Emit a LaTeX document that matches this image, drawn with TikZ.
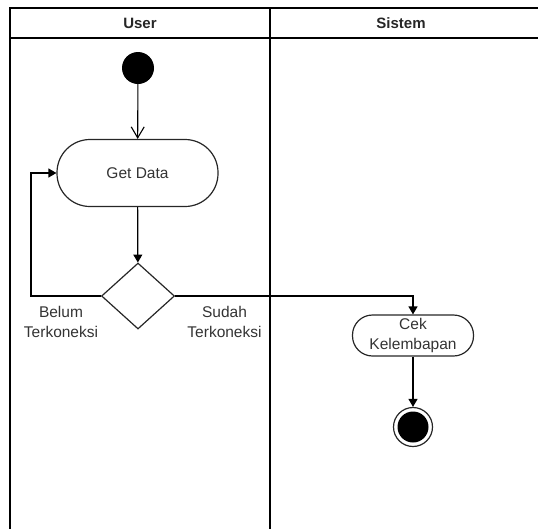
\documentclass[tikz,border=0pt]{standalone}
\usepackage{fontspec}
\setmainfont{Liberation Sans}
\usetikzlibrary{shapes.geometric,arrows.meta}
\definecolor{txt}{HTML}{333333}
\tikzset{
  lane/.style={draw=black,line width=1.3pt},
  act/.style={draw=black!85,line width=1.2pt,rectangle,inner sep=0pt,text=txt,align=center,font=\fontsize{15.5}{20}\selectfont},
  dec/.style={draw=black!85,line width=1.2pt,diamond,inner sep=0pt,minimum width=73pt,minimum height=66pt},
  lbl/.style={text=txt,align=center,font=\fontsize{15.5}{20}\selectfont,inner sep=0pt},
  hdr/.style={font=\bfseries\fontsize{15}{18}\selectfont,text=black!85,inner sep=0pt},
  flow/.style={draw=black,line width=1.2pt,-{Triangle[length=8pt,width=9pt]}},
  oflow/.style={draw=black,line width=1.1pt,-{Straight Barb[length=11pt,width=13pt]}}
}
\begin{document}
\begin{tikzpicture}[x=1pt,y=-1pt]
\useasboundingbox (0,0) rectangle (538,528);
\begin{scope}
\clip (0,0) rectangle (538,528);
\draw[lane] (10,8) rectangle (600,600);
\draw[lane] (10,38) -- (600,38);
\draw[lane] (270,8) -- (270,600);
\end{scope}
\node[hdr] (hu) at (140,23) {User};
\node[hdr] (hs) at (401,23) {Sistem};

\node[circle,fill=black,minimum size=32pt,inner sep=0pt] (start) at (138,68) {};
\node[act,minimum width=161pt,minimum height=67pt,rounded corners=33pt] (get) at (137.5,173) {Get Data};
\node[dec] (dia) at (138,296) {};
\node[act,minimum width=121pt,minimum height=41pt,rounded corners=20pt] (cek) at (413,335.5) {Cek\\Kelembapan};
\node[circle,draw=black!85,fill=white,line width=1.2pt,minimum size=39pt,inner sep=0pt] (end) at (413,427) {};
\node[circle,fill=black,minimum size=31pt,inner sep=0pt] (endin) at (413,427) {};

\node[lbl] (lb) at (61,322) {Belum\\Terkoneksi};
\node[lbl] (ls) at (224.5,322) {Sudah\\Terkoneksi};

\coordinate (lp) at (31,296);
\draw[oflow] (start) -- (get);
\draw[flow] (get) -- (dia);
\draw[flow] (dia.west) -- (lp) |- (get.west);
\draw[flow] (dia.east) -| (cek.north);
\draw[flow] (cek) -- (end);
\end{tikzpicture}
\end{document}
